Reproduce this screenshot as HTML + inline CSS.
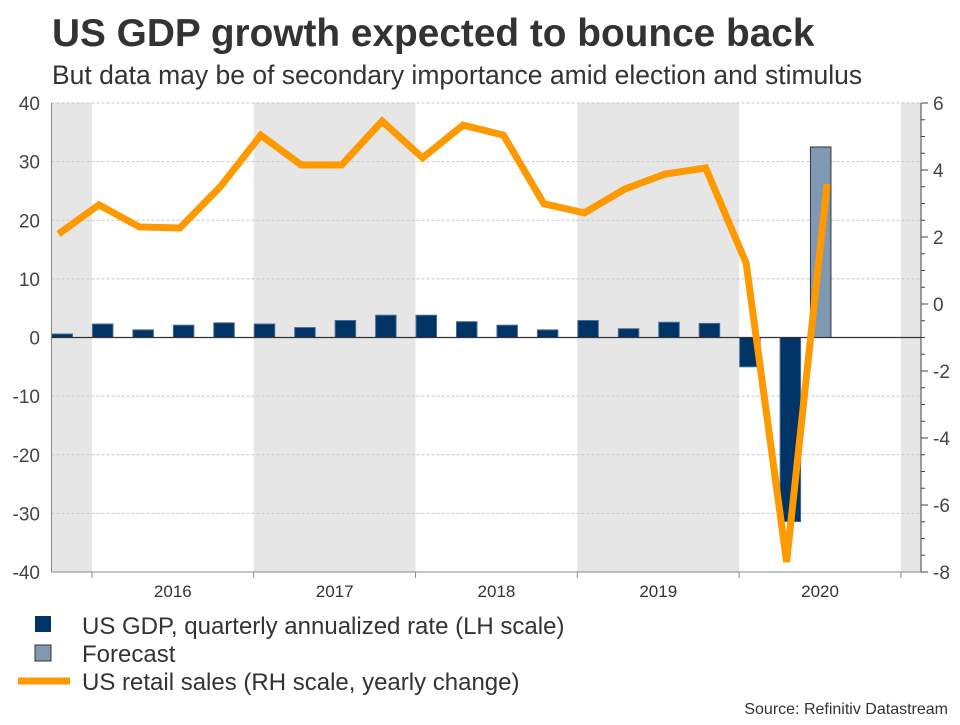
<!DOCTYPE html>
<html><head><meta charset="utf-8"><style>
body{margin:0;background:#fff;font-family:"Liberation Sans",sans-serif}
</style></head><body>
<svg width="960" height="720" xmlns="http://www.w3.org/2000/svg" font-family="Liberation Sans, sans-serif">
<text x="52" y="46" font-size="38.8" font-weight="bold" fill="#333">US GDP growth expected to bounce back</text>
<text x="52" y="84" font-size="26.5" fill="#333">But data may be of secondary importance amid election and stimulus</text>
<g id="plot"></g>
<g>
<rect x="35" y="616" width="16" height="16" fill="#003366"/>
<text x="82" y="634" font-size="24" fill="#333">US GDP, quarterly annualized rate (LH scale)</text>
<rect x="35" y="645" width="16" height="16" fill="#7f99b2" stroke="#333" stroke-width="1"/>
<text x="82" y="662" font-size="24" fill="#333">Forecast</text>
<line x1="18" y1="681" x2="70" y2="681" stroke="#ff9900" stroke-width="7"/>
<text x="82" y="690" font-size="24" fill="#333">US retail sales (RH scale, yearly change)</text>
</g>
<text x="948" y="714" font-size="16" fill="#333" text-anchor="end">Source: Refinitiv Datastream</text>
</svg>
<script>
const gdp=[0.6,2.3,1.3,2.1,2.5,2.3,1.7,2.9,3.8,3.8,2.7,2.1,1.3,2.9,1.5,2.6,2.4,-5.0,-31.4];
const forecast=[32.5];
const retail=[2.09,2.96,2.3,2.27,3.5,5.04,4.15,4.15,5.46,4.36,5.34,5.04,2.99,2.72,3.43,3.88,4.06,1.22,-7.7,3.58];
const years=["2016","2017","2018","2019","2020"];
const leftTicks=[40,30,20,10,0,-10,-20,-30,-40];
const rightTicks=[6,4,2,0,-2,-4,-6,-8];
const X0=51.5,QW=40.45,TOP=103,BOT=572,RX=921;
const yL=v=>TOP+(40-v)*(BOT-TOP)/80;
const yR=v=>TOP+(6-v)*(BOT-TOP)/14;
const xQ=i=>X0+i*QW;
const NS="http://www.w3.org/2000/svg";
const g=document.getElementById('plot');
function mk(t,a,p){const e=document.createElementNS(NS,t);for(const k in a)e.setAttribute(k,a[k]);(p||g).appendChild(e);return e;}
[[0,1],[5,9],[13,17],[21,21.5]].forEach(b=>{const e=mk('rect',{x:xQ(b[0]),y:TOP,width:Math.min(xQ(b[1]),RX)-xQ(b[0]),height:BOT-TOP,fill:'#e6e6e6'});

});
leftTicks.forEach(v=>{const l=mk('line',{x1:X0,x2:RX,y1:yL(v),y2:yL(v),stroke:'#c8c8c8','stroke-dasharray':'3,2'});


const t=mk('text',{x:40,y:yL(v)+7,'font-size':19,fill:'#444','text-anchor':'end'});t.textContent=v;

});
rightTicks.forEach(v=>{const t=mk('text',{x:933,y:yR(v)+7,'font-size':19,fill:'#444'});t.textContent=v;


mk('line',{x1:RX,x2:RX+7,y1:yR(v),y2:yR(v),stroke:'#444'});});
for(let v=-8;v<=6;v+=0.5){mk('line',{x1:RX,x2:RX+4,y1:yR(v),y2:yR(v),stroke:'#444'});}
mk('line',{x1:X0,x2:X0,y1:TOP,y2:BOT,stroke:'#888'});
mk('line',{x1:RX,x2:RX,y1:TOP,y2:BOT,stroke:'#444'});
mk('line',{x1:X0,x2:RX,y1:BOT,y2:BOT,stroke:'#888'});
years.forEach((y,k)=>{const s=1+4*k;mk('line',{x1:xQ(s),x2:xQ(s),y1:BOT,y2:BOT+6,stroke:'#888'});
const t=mk('text',{x:xQ(s)+2*QW,y:BOT+25,'font-size':17,fill:'#333','text-anchor':'middle'});t.textContent=y;

});
mk('line',{x1:xQ(21),x2:xQ(21),y1:BOT,y2:BOT+6,stroke:'#888'});
gdp.forEach((v,i)=>{const y0=yL(0),y1=yL(v);const r=mk('rect',{x:xQ(i)+0.5,y:Math.min(y0,y1),width:20.5,height:Math.abs(y1-y0),fill:'#003366',stroke:'#4a6d94','stroke-width':1});

});
forecast.forEach((v,i)=>{const y0=yL(0),y1=yL(v);const r=mk('rect',{x:xQ(18.75+i)+0.5,y:Math.min(y0,y1),width:20.5,height:Math.abs(y1-y0),fill:'#7f99b2',stroke:'#333','stroke-width':1});

});
mk('line',{x1:X0,x2:RX,y1:yL(0),y2:yL(0),stroke:'#333','stroke-width':1.2});
const pl=mk('polyline',{points:retail.map((v,i)=>(xQ(i)+7)+','+yR(v)).join(' '),fill:'none',stroke:'#ff9900','stroke-width':7,'stroke-linejoin':'miter'});


</script>
</body></html>
